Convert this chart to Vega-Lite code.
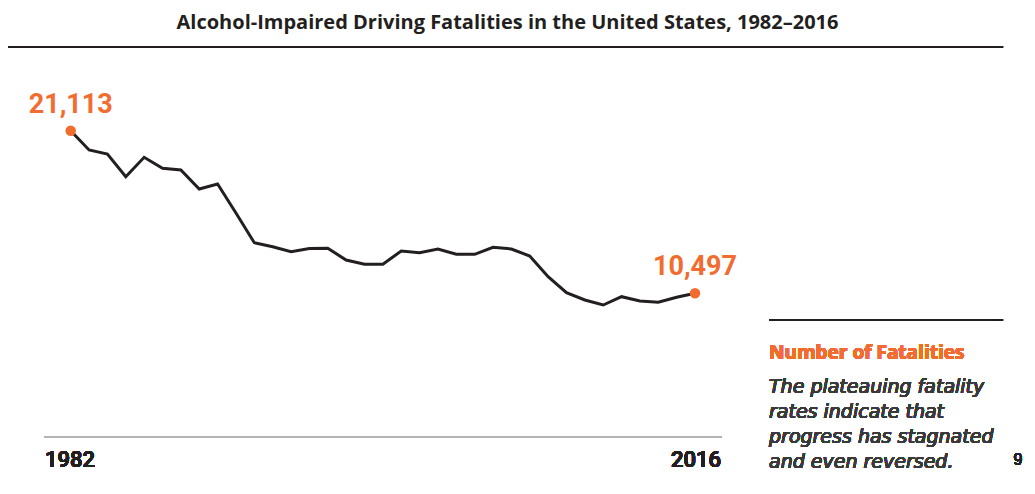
{
  "$schema": "https://vega.github.io/schema/vega-lite/v6.json",
  "width": 1035,
  "height": 454,
  "autosize": {"type": "none"},
  "padding": {"top": 40, "left": 0, "right": 0, "bottom": 0},
  "background": "white",
  "config": {"view": {"stroke": null}},
  "title": {
    "text": "Alcohol-Impaired Driving Fatalities in the United States, 1982–2016",
    "anchor": "middle",
    "frame": "group",
    "font": "Open Sans",
    "fontSize": 20,
    "fontWeight": "bold",
    "color": "#231F20",
    "dx": -10,
    "offset": 7
  },
  "datasets": {
    "fatalities": [
      {"year": 1982, "fatalities": 21113},
      {"year": 1983, "fatalities": 19853},
      {"year": 1984, "fatalities": 19592},
      {"year": 1985, "fatalities": 18110},
      {"year": 1986, "fatalities": 19376},
      {"year": 1987, "fatalities": 18658},
      {"year": 1988, "fatalities": 18547},
      {"year": 1989, "fatalities": 17307},
      {"year": 1990, "fatalities": 17633},
      {"year": 1991, "fatalities": 15740},
      {"year": 1992, "fatalities": 13801},
      {"year": 1993, "fatalities": 13540},
      {"year": 1994, "fatalities": 13213},
      {"year": 1995, "fatalities": 13422},
      {"year": 1996, "fatalities": 13435},
      {"year": 1997, "fatalities": 12671},
      {"year": 1998, "fatalities": 12391},
      {"year": 1999, "fatalities": 12391},
      {"year": 2000, "fatalities": 13259},
      {"year": 2001, "fatalities": 13148},
      {"year": 2002, "fatalities": 13390},
      {"year": 2003, "fatalities": 13044},
      {"year": 2004, "fatalities": 13044},
      {"year": 2005, "fatalities": 13501},
      {"year": 2006, "fatalities": 13390},
      {"year": 2007, "fatalities": 12933},
      {"year": 2008, "fatalities": 11581},
      {"year": 2009, "fatalities": 10537},
      {"year": 2010, "fatalities": 10060},
      {"year": 2011, "fatalities": 9733},
      {"year": 2012, "fatalities": 10275},
      {"year": 2013, "fatalities": 9995},
      {"year": 2014, "fatalities": 9910},
      {"year": 2015, "fatalities": 10236},
      {"year": 2016, "fatalities": 10497}
    ]
  },
  "data": {"name": "fatalities"},
  "layer": [
    {
      "mark": {"type": "rule", "color": "#231F20", "strokeWidth": 2},
      "encoding": {
        "x": {"datum": 1978.586, "type": "quantitative", "scale": {"domain": [1978.15, 2034.516], "nice": false, "zero": false}, "axis": null},
        "x2": {"datum": 2032.774},
        "y": {"datum": 26577, "type": "quantitative", "scale": {"domain": [-2606, 27034], "nice": false, "zero": false}, "axis": null}
      }
    },
    {
      "mark": {"type": "rule", "color": "#B3B3B3", "strokeWidth": 2},
      "encoding": {
        "x": {"datum": 1980.546, "type": "quantitative", "scale": {"domain": [1978.15, 2034.516], "nice": false, "zero": false}, "axis": null},
        "x2": {"datum": 2017.47},
        "y": {"datum": 1115, "type": "quantitative", "scale": {"domain": [-2606, 27034], "nice": false, "zero": false}, "axis": null}
      }
    },
    {
      "mark": {"type": "rule", "color": "#231F20", "strokeWidth": 2},
      "encoding": {
        "x": {"datum": 2020.03, "type": "quantitative", "scale": {"domain": [1978.15, 2034.516], "nice": false, "zero": false}, "axis": null},
        "x2": {"datum": 2032.774},
        "y": {"datum": 8754, "type": "quantitative", "scale": {"domain": [-2606, 27034], "nice": false, "zero": false}, "axis": null}
      }
    },
    {
      "mark": {"type": "line", "color": "#231F20", "strokeWidth": 3, "strokeJoin": "miter"},
      "encoding": {
        "x": {"field": "year", "type": "quantitative", "scale": {"domain": [1978.15, 2034.516], "nice": false, "zero": false}, "axis": null},
        "y": {"field": "fatalities", "type": "quantitative", "scale": {"domain": [-2606, 27034], "nice": false, "zero": false}, "axis": null}
      }
    },
    {
      "transform": [{"filter": "datum.year == 1982 || datum.year == 2016"}],
      "mark": {"type": "circle", "color": "#F36C2F", "opacity": 1, "size": 110},
      "encoding": {
        "x": {"field": "year", "type": "quantitative", "scale": {"domain": [1978.15, 2034.516], "nice": false, "zero": false}, "axis": null},
        "y": {"field": "fatalities", "type": "quantitative", "scale": {"domain": [-2606, 27034], "nice": false, "zero": false}, "axis": null}
      }
    },
    {
      "transform": [{"filter": "datum.year == 1982 || datum.year == 2016"}],
      "mark": {"type": "text", "color": "#F36C2F", "font": "Roboto", "fontSize": 27, "fontWeight": "bold", "align": "center", "baseline": "middle", "dy": -26},
      "encoding": {
        "x": {"field": "year", "type": "quantitative", "scale": {"domain": [1978.15, 2034.516], "nice": false, "zero": false}, "axis": null},
        "y": {"field": "fatalities", "type": "quantitative", "scale": {"domain": [-2606, 27034], "nice": false, "zero": false}, "axis": null},
        "text": {"field": "fatalities", "type": "quantitative", "format": ","}
      }
    },
    {
      "mark": {"type": "text", "color": "#231F20", "font": "Roboto", "fontSize": 22, "fontWeight": 500, "align": "left", "baseline": "middle"},
      "encoding": {
        "x": {"datum": 1980.6, "type": "quantitative", "scale": {"domain": [1978.15, 2034.516], "nice": false, "zero": false}, "axis": null},
        "y": {"datum": -387, "type": "quantitative", "scale": {"domain": [-2606, 27034], "nice": false, "zero": false}, "axis": null},
        "text": {"value": "1982"}
      }
    },
    {
      "mark": {"type": "text", "color": "#231F20", "font": "Roboto", "fontSize": 22, "fontWeight": 500, "align": "right", "baseline": "middle"},
      "encoding": {
        "x": {"datum": 2017.416, "type": "quantitative", "scale": {"domain": [1978.15, 2034.516], "nice": false, "zero": false}, "axis": null},
        "y": {"datum": -387, "type": "quantitative", "scale": {"domain": [-2606, 27034], "nice": false, "zero": false}, "axis": null},
        "text": {"value": "2016"}
      }
    },
    {
      "mark": {"type": "text", "color": "#F36C2F", "font": "Open Sans", "fontSize": 19, "fontWeight": "bold", "align": "left", "baseline": "middle"},
      "encoding": {
        "x": {"datum": 2020.03, "type": "quantitative", "scale": {"domain": [1978.15, 2034.516], "nice": false, "zero": false}, "axis": null},
        "y": {"datum": 6599, "type": "quantitative", "scale": {"domain": [-2606, 27034], "nice": false, "zero": false}, "axis": null},
        "text": {"value": "Number of Fatalities"}
      }
    },
    {
      "mark": {"type": "text", "color": "#3A3A3A", "font": "DejaVu Sans", "fontSize": 19, "fontStyle": "italic", "fontWeight": "normal", "align": "left", "baseline": "alphabetic", "lineHeight": 25},
      "encoding": {
        "x": {"datum": 2020.03, "type": "quantitative", "scale": {"domain": [1978.15, 2034.516], "nice": false, "zero": false}, "axis": null},
        "y": {"datum": 3988, "type": "quantitative", "scale": {"domain": [-2606, 27034], "nice": false, "zero": false}, "axis": null},
        "text": {"value": ["The plateauing fatality", "rates indicate that", "progress has stagnated", "and even reversed."]}
      }
    },
    {
      "mark": {"type": "text", "color": "#222222", "font": "Liberation Sans", "fontSize": 16, "fontWeight": "normal", "align": "center", "baseline": "middle"},
      "encoding": {
        "x": {"datum": 2033.59, "type": "quantitative", "scale": {"domain": [1978.15, 2034.516], "nice": false, "zero": false}, "axis": null},
        "y": {"datum": -387, "type": "quantitative", "scale": {"domain": [-2606, 27034], "nice": false, "zero": false}, "axis": null},
        "text": {"value": "9"}
      }
    }
  ]
}
